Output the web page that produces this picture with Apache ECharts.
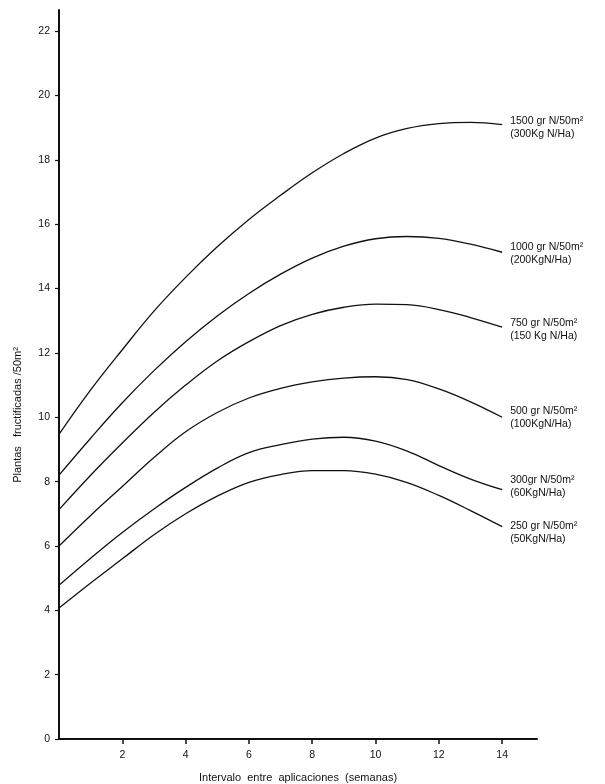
<!DOCTYPE html>
<html>
<head>
<meta charset="utf-8">
<script src="https://cdn.jsdelivr.net/npm/echarts@6/dist/echarts.min.js"></script>
<style>
  html, body { margin: 0; padding: 0; background: #fff; }
  #chart { width: 605px; height: 784px; }
</style>
</head>
<body>
<div id="chart"></div>
<script>
// Interval between applications (weeks)
const weeks = [0, 1, 2, 3, 4, 5, 6, 7, 8, 9, 10, 11, 12, 13, 14];

// Fruiting plants per 50 m² for each nitrogen dose
const dose1500 = [9.47, 10.85, 12.1, 13.3, 14.35, 15.3, 16.15, 16.9, 17.6, 18.2, 18.68, 18.98, 19.13, 19.17, 19.1];
const dose1000 = [8.2, 9.35, 10.45, 11.45, 12.35, 13.15, 13.85, 14.45, 14.95, 15.32, 15.55, 15.62, 15.56, 15.38, 15.13];
const dose750  = [7.13, 8.2, 9.2, 10.15, 11.0, 11.75, 12.35, 12.85, 13.2, 13.42, 13.52, 13.5, 13.35, 13.1, 12.8];
const dose500  = [6.0, 6.95, 7.85, 8.75, 9.55, 10.15, 10.6, 10.9, 11.1, 11.22, 11.26, 11.17, 10.88, 10.48, 10.0];
const dose300  = [4.78, 5.62, 6.42, 7.15, 7.82, 8.42, 8.9, 9.15, 9.32, 9.38, 9.26, 8.95, 8.5, 8.08, 7.75];
const dose250  = [4.07, 4.85, 5.6, 6.35, 7.0, 7.55, 7.98, 8.22, 8.34, 8.34, 8.23, 7.97, 7.57, 7.1, 6.6];

const doseLabels = ['1500 gr N/50m²', '1000 gr N/50m²', '750 gr N/50m²', '500 gr N/50m²', '300gr N/50m²', '250 gr N/50m²'];
const haLabels   = ['(300Kg N/Ha)', '(200KgN/Ha)', '(150 Kg N/Ha)', '(100KgN/Ha)', '(60KgN/Ha)', '(50KgN/Ha)'];

const xTicks = [2, 4, 6, 8, 10, 12, 14];
const yTicks = [0, 2, 4, 6, 8, 10, 12, 14, 16, 18, 20, 22];

const allDoses = [dose1500, dose1000, dose750, dose500, dose300, dose250];
// vertical nudge of each end label, in pixels
const labelShift = [3, 1, 2, 0, -3, 6];

const FONT = 'Liberation Sans';
const INK = '#111';

const series = allDoses.map((vals, i) => ({
  name: doseLabels[i],
  type: 'line',
  smooth: 0.4,
  showSymbol: false,
  symbol: 'none',
  silent: true,
  lineStyle: { color: INK, width: 1.3 },
  data: weeks.map((w, j) => [w, vals[j]]),
  endLabel: {
    show: true,
    formatter: () => doseLabels[i] + '\n' + haLabels[i],
    color: INK,
    fontFamily: FONT,
    fontSize: 10.5,
    lineHeight: 13,
    align: 'left',
    distance: 8,
    offset: [0, labelShift[i]]
  }
}));

const chart = echarts.init(document.getElementById('chart'), null, { renderer: 'canvas' });
chart.setOption({
  backgroundColor: '#fff',
  animation: false,
  grid: { left: 59, right: 68, top: 10, bottom: 45, outerBoundsMode: 'none' },
  xAxis: {
    type: 'value',
    min: 0,
    max: 15.1,
    interval: 2,
    name: 'Intervalo  entre  aplicaciones  (semanas)',
    nameLocation: 'middle',
    nameGap: 33,
    nameTextStyle: { color: INK, fontFamily: FONT, fontSize: 11 },
    axisLine: { lineStyle: { color: INK, width: 2 } },
    axisTick: { show: true, length: 5, customValues: xTicks, lineStyle: { color: INK, width: 1.5 } },
    axisLabel: { customValues: xTicks, color: INK, fontFamily: FONT, fontSize: 10.5, margin: 11 },
    splitLine: { show: false }
  },
  yAxis: {
    type: 'value',
    min: 0,
    max: 22.66,
    interval: 2,
    axisLine: { show: true, lineStyle: { color: INK, width: 2 } },
    axisTick: { show: true, length: 4, customValues: yTicks, lineStyle: { color: INK, width: 1.2 } },
    axisLabel: { customValues: yTicks, color: INK, fontFamily: FONT, fontSize: 10.5, margin: 9 },
    splitLine: { show: false }
  },
  graphic: [{
    type: 'text',
    x: 18,
    y: 415,
    rotation: Math.PI / 2,
    style: {
      text: 'Plantas   fructificadas /50m²',
      fill: INK,
      font: '11px "Liberation Sans"',
      textAlign: 'center',
      textVerticalAlign: 'middle'
    }
  }],
  series: series
});
</script>
</body>
</html>
